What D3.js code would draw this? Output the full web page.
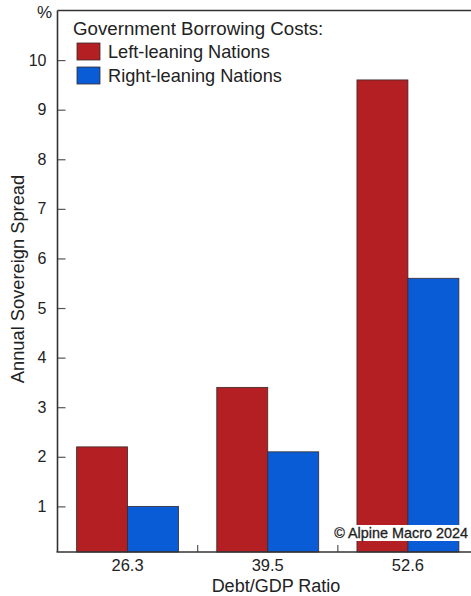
<!DOCTYPE html>
<html>
<head>
<meta charset="utf-8">
<script src="https://cdn.jsdelivr.net/npm/d3@7"></script>
<style>
  html, body { margin: 0; padding: 0; background: #fff; }
  svg { display: block; font-family: "Liberation Sans", Arial, sans-serif; }
</style>
</head>
<body>
<svg id="chart" width="471" height="596"></svg>
<script>
// Debt/GDP buckets on the x axis
const categories = ["26.3", "39.5", "52.6"];
// Annual sovereign spread (%) per bucket
const leftLeaning = [2.2, 3.4, 9.6];
const rightLeaning = [1.0, 2.1, 5.6];
const seriesNames = ["Left-leaning Nations", "Right-leaning Nations"];
const seriesColors = ["#b31f22", "#0a5bd6"];
const yTickValues = [1, 2, 3, 4, 5, 6, 7, 8, 9, 10];

const W = 471, H = 596;
const plot = { left: 57.5, right: 478, top: 10.5, bottom: 552 };
const FONT = "Liberation Sans, Arial, sans-serif";

const svg = d3.select("#chart");

const x = d3.scaleBand().domain(categories).range([plot.left, plot.right]).padding(0);
const xs = d3.scaleBand().domain(seriesNames).range([0, x.bandwidth()])
  .paddingInner(0).paddingOuter(0.375);
const y = d3.scaleLinear().domain([0.08, 11]).range([plot.bottom, plot.top]);

const rows = categories.map((c, i) => ({
  cat: c,
  vals: [
    { s: seriesNames[0], v: leftLeaning[i], color: seriesColors[0] },
    { s: seriesNames[1], v: rightLeaning[i], color: seriesColors[1] }
  ]
}));

// bars
const groups = svg.append("g").selectAll("g").data(rows).join("g")
  .attr("transform", d => `translate(${x(d.cat)},0)`);
groups.selectAll("rect").data(d => d.vals).join("rect")
  .attr("x", d => xs(d.s))
  .attr("y", d => y(d.v))
  .attr("width", xs.bandwidth())
  .attr("height", d => y.range()[0] - y(d.v))
  .attr("fill", d => d.color)
  .attr("stroke", "#3a2a2a")
  .attr("stroke-width", 0.8);

// left axis with inward ticks
const yAxis = d3.axisLeft(y).tickValues(yTickValues).tickSizeInner(-8).tickSizeOuter(0).tickPadding(11);
const gy = svg.append("g").attr("transform", `translate(${plot.left},0)`).call(yAxis);
gy.select(".domain").remove();
gy.selectAll(".tick line").attr("stroke", "#555").attr("stroke-width", 1.2);
gy.selectAll(".tick text").attr("font-size", 16).attr("fill", "#222").attr("font-family", FONT);

// bottom axis: labels centred under groups, ticks between groups
const xAxis = d3.axisBottom(x).tickSize(0).tickPadding(7.5);
const gx = svg.append("g").attr("transform", `translate(0,${plot.bottom})`).call(xAxis);
gx.select(".domain").remove();
gx.selectAll(".tick text").attr("font-size", 16.5).attr("fill", "#222").attr("font-family", FONT);
svg.append("g").selectAll("line").data(categories.slice(1)).join("line")
  .attr("x1", d => x(d)).attr("x2", d => x(d))
  .attr("y1", plot.bottom).attr("y2", plot.bottom - 7)
  .attr("stroke", "#555").attr("stroke-width", 1.2);

// frame: left, top and bottom lines
const frame = svg.append("g").attr("stroke", "#333").attr("stroke-width", 1.6).attr("fill", "none");
frame.append("line").attr("x1", plot.left).attr("x2", plot.left).attr("y1", plot.top).attr("y2", plot.bottom);
frame.append("line").attr("x1", plot.left).attr("x2", W).attr("y1", plot.top).attr("y2", plot.top);
frame.append("line").attr("x1", plot.left - 1).attr("x2", W).attr("y1", plot.bottom).attr("y2", plot.bottom);

// unit label
svg.append("text").attr("x", 52).attr("y", 18).attr("text-anchor", "end")
  .attr("font-size", 17).attr("fill", "#222").text("%");

// axis titles
svg.append("text").attr("x", 276).attr("y", 592).attr("text-anchor", "middle")
  .attr("font-size", 18).attr("fill", "#222").text("Debt/GDP Ratio");
svg.append("text").attr("transform", "translate(24,279) rotate(-90)").attr("text-anchor", "middle")
  .attr("font-size", 18.3).attr("fill", "#222").text("Annual Sovereign Spread");

// legend
const legend = svg.append("g");
legend.append("text").attr("x", 73).attr("y", 35).attr("font-size", 18.7).attr("fill", "#222")
  .text("Government Borrowing Costs:");
const items = legend.selectAll("g.item").data(seriesNames).join("g").attr("class", "item")
  .attr("transform", (d, i) => `translate(77,${43 + i * 24})`);
items.append("rect").attr("width", 23).attr("height", 17)
  .attr("fill", (d, i) => seriesColors[i]).attr("stroke", "#3a2a2a").attr("stroke-width", 0.8);
items.append("text").attr("x", 31).attr("y", 15).attr("font-size", 18.2).attr("fill", "#222")
  .text(d => d);

// copyright note
const note = svg.append("g");
const noteText = note.append("text").attr("x", 468).attr("y", 538).attr("text-anchor", "end")
  .attr("font-size", 14.4).attr("fill", "#222").attr("stroke", "#222").attr("stroke-width", 0.3)
  .text("\u00A9 Alpine Macro 2024");
const bb = noteText.node().getBBox();
note.insert("rect", "text").attr("x", bb.x - 3).attr("y", bb.y).attr("width", bb.width + 5)
  .attr("height", bb.height).attr("fill", "#fff");
</script>
</body>
</html>
